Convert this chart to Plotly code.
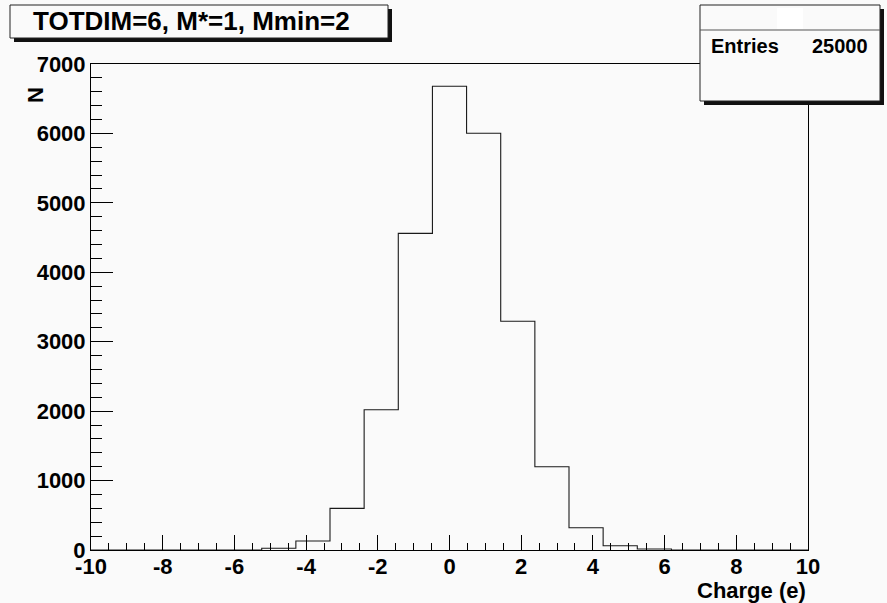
import numpy as np
import plotly.graph_objects as go

# Histogram: 21 bins spanning -10..10
x_min, x_max, n_bins = -10.0, 10.0, 21
counts = [0, 0, 0, 0, 0, 25, 130, 600, 2021, 4561, 6679,
          6002, 3294, 1200, 321, 62, 14, 0, 0, 0, 0]
entries = 25000
title_text = "TOTDIM=6, M*=1, Mmin=2"
x_title = "Charge (e)"
y_title = "N"
x_ticks = [-10, -8, -6, -4, -2, 0, 2, 4, 6, 8, 10]
y_ticks = [0, 1000, 2000, 3000, 4000, 5000, 6000, 7000]

edges = np.linspace(x_min, x_max, n_bins + 1)
step_y = list(counts) + [counts[-1]]

W, H = 887, 603
L, R, T, B = 91, 808, 64, 550
FONT = "Liberation Sans"
BG = "#fafafa"


def px(x):
    return (x - L) / (R - L)


def py(y):
    return (B - y) / (B - T)


fig = go.Figure()
fig.add_trace(go.Scatter(
    x=edges, y=step_y, mode="lines", line_shape="hv",
    line=dict(color="#1a1a1a", width=1.1), hoverinfo="skip",
))

axis_font = dict(family=FONT, size=22, color="black")
fig.update_layout(
    width=W, height=H,
    margin=dict(l=L, r=W - R, t=T, b=H - B),
    paper_bgcolor=BG, plot_bgcolor=BG,
    showlegend=False,
    font=dict(family=FONT, color="black"),
    xaxis=dict(
        range=[x_min, x_max],
        tickvals=x_ticks, ticktext=[f"<b>{v}</b>" for v in x_ticks],
        ticks="inside", ticklen=15, tickwidth=1, tickcolor="black",
        minor=dict(ticks="inside", ticklen=7, dtick=0.5, tickcolor="black", tickwidth=1),
        showline=True, linecolor="black", linewidth=1, mirror=True,
        showgrid=False, zeroline=False,
        tickfont=axis_font, ticklabelstandoff=-3,
    ),
    yaxis=dict(
        range=[0, 7000],
        tickvals=y_ticks, ticktext=[f"<b>{v}</b>" for v in y_ticks],
        ticks="inside", ticklen=22, tickwidth=1, tickcolor="black",
        minor=dict(ticks="inside", ticklen=11, dtick=200, tickcolor="black", tickwidth=1),
        showline=True, linecolor="black", linewidth=1, mirror=True,
        showgrid=False, zeroline=False,
        tickfont=axis_font,
    ),
)

shapes = []
# title box with drop shadow
shapes.append(dict(type="rect", xref="paper", yref="paper",
                   x0=px(14), x1=px(392), y0=py(42), y1=py(9),
                   fillcolor="#111", line=dict(width=0), layer="above"))
shapes.append(dict(type="rect", xref="paper", yref="paper",
                   x0=px(10), x1=px(388), y0=py(38), y1=py(5),
                   fillcolor=BG, line=dict(color="#222", width=1), layer="above"))
# stats box with drop shadow
shapes.append(dict(type="rect", xref="paper", yref="paper",
                   x0=px(704), x1=px(884), y0=py(105), y1=py(9),
                   fillcolor="#111", line=dict(width=0), layer="above"))
shapes.append(dict(type="rect", xref="paper", yref="paper",
                   x0=px(700), x1=px(880), y0=py(101), y1=py(5),
                   fillcolor=BG, line=dict(color="#222", width=1), layer="above"))
shapes.append(dict(type="rect", xref="paper", yref="paper",
                   x0=px(777), x1=px(803), y0=py(29), y1=py(8),
                   fillcolor="white", line=dict(width=0), layer="above"))
shapes.append(dict(type="line", xref="paper", yref="paper",
                   x0=px(700), x1=px(880), y0=py(30), y1=py(30),
                   line=dict(color="#555", width=1), layer="above"))
fig.update_layout(shapes=shapes)

ann = [
    dict(text=f"<b>{title_text}</b>", x=px(191), y=py(21), xanchor="center", yanchor="middle",
         font=dict(family=FONT, size=26, color="black")),
    dict(text="<b>Entries</b>", x=px(709), y=py(46), xanchor="left", yanchor="middle",
         font=dict(family=FONT, size=20, color="black")),
    dict(text=f"<b>{entries}</b>", x=px(870), y=py(46), xanchor="right", yanchor="middle",
         font=dict(family=FONT, size=20, color="black")),
    dict(text=f"<b>{x_title}</b>", x=px(808), y=py(590), xanchor="right", yanchor="middle",
         font=dict(family=FONT, size=22, color="black")),
    dict(text=f"<b>{y_title}</b>", x=px(35), y=py(95), xanchor="center", yanchor="middle",
         textangle=-90, font=dict(family=FONT, size=22, color="black")),
]
for a in ann:
    a.update(xref="paper", yref="paper", showarrow=False)
fig.update_layout(annotations=ann)

fig.write_html("out.html")
